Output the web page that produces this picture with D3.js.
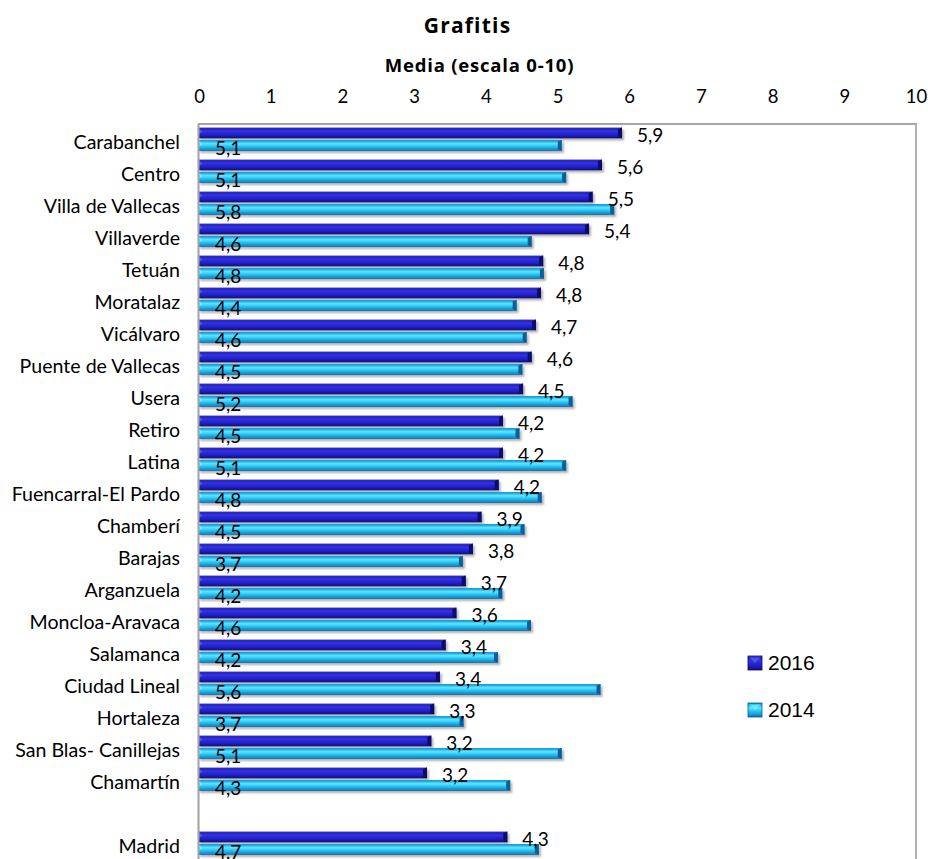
<!DOCTYPE html>
<html>
<head>
<meta charset="utf-8">
<script src="https://cdn.jsdelivr.net/npm/d3@7"></script>
<style>
  html, body { margin: 0; padding: 0; background: #fff; }
  svg { display: block; }
  text { font-family: Lato, "Open Sans", sans-serif; fill: #000; }
</style>
</head>
<body>
<svg id="chart" width="928" height="859"></svg>
<script>
const title = "Grafitis";
const axisTitle = "Media (escala 0-10)";
const categories = ["Carabanchel","Centro","Villa de Vallecas","Villaverde","Tetuán","Moratalaz","Vicálvaro","Puente de Vallecas","Usera","Retiro","Latina","Fuencarral-El Pardo","Chamberí","Barajas","Arganzuela","Moncloa-Aravaca","Salamanca","Ciudad Lineal","Hortaleza","San Blas- Canillejas","Chamartín","","Madrid"];
const series = ["2016", "2014"];
const values2016 = [5.90,5.62,5.49,5.44,4.80,4.77,4.70,4.64,4.52,4.24,4.24,4.18,3.94,3.82,3.72,3.59,3.44,3.36,3.28,3.24,3.18,null,4.30];
const values2014 = [5.06,5.12,5.79,4.64,4.81,4.43,4.57,4.51,5.21,4.47,5.12,4.78,4.54,3.68,4.23,4.63,4.17,5.60,3.69,5.06,4.34,null,4.74];
const xTicks = [0,1,2,3,4,5,6,7,8,9,10];

const svg = d3.select("#chart");
const defs = svg.append("defs");

const plot = {left: 199, right: 916, top: 124};
const rowH = 32;

const x = d3.scaleLinear().domain([0, 10]).range([plot.left, plot.right]);
const y = d3.scaleBand().domain(categories.map((c, i) => i)).range([plot.top, plot.top + rowH * categories.length]);
const ySub = d3.scaleBand().domain(series).range([3.5, 28.5]);

const locale = d3.formatLocale({decimal: ",", thousands: ".", grouping: [3], currency: ["", " €"]});
const fmt = locale.format(".1f");

// gradients
const gradStops = {
  "2016": [[0,"#4a4ae6"],[0.12,"#2020b0"],[0.32,"#3232e6"],[0.6,"#2424d0"],[0.85,"#1818a4"],[1,"#0c0c70"]],
  "2014": [[0,"#1a8ccc"],[0.14,"#26b0ea"],[0.34,"#5ae8ff"],[0.58,"#2cc4f2"],[0.85,"#1694d4"],[1,"#0a64a2"]]
};
const capColor = {"2016": "#0c0c6a", "2014": "#0a5f98"};
const tipColor = {"2016": "#5656ee", "2014": "#6aeeff"};
series.forEach(s => {
  const g = defs.append("linearGradient").attr("id", "g" + s).attr("x1", 0).attr("y1", 0).attr("x2", 0).attr("y2", 1);
  gradStops[s].forEach(([o, c]) => g.append("stop").attr("offset", o).attr("stop-color", c));
});
const f = defs.append("filter").attr("id", "shadow").attr("x", "-5%").attr("y", "-50%").attr("width", "110%").attr("height", "200%");
f.append("feGaussianBlur").attr("stdDeviation", 1.2);

// title texts
svg.append("text").attr("x", 467.5).attr("y", 33).attr("text-anchor", "middle")
  .style("font-family", "'Open Sans', Lato, sans-serif")
  .style("font-weight", "bold").style("font-size", "21px").style("letter-spacing", "1.2px").text(title);
svg.append("text").attr("x", 479.5).attr("y", 71.5).attr("text-anchor", "middle")
  .style("font-family", "'Open Sans', Lato, sans-serif")
  .style("font-weight", "bold").style("font-size", "18.5px").style("letter-spacing", "0.8px").text(axisTitle);

// top axis labels
const xAxis = d3.axisTop(x).tickValues(xTicks).tickSize(0).tickPadding(21).tickFormat(d => d);
const gx = svg.append("g").attr("transform", `translate(0,${plot.top})`).call(xAxis);
gx.select(".domain").remove();
gx.selectAll("text").style("font-family", "Lato, sans-serif").style("font-size", "18.5px").attr("fill", "#000");

// plot frame
const frame = svg.append("g");
frame.append("line").attr("x1", plot.left - 1).attr("x2", plot.right + 1).attr("y1", plot.top).attr("y2", plot.top)
  .attr("stroke", "#a6a6a6").attr("stroke-width", 2);
frame.append("line").attr("x1", plot.right).attr("x2", plot.right).attr("y1", plot.top).attr("y2", 859)
  .attr("stroke", "#b0b0b0").attr("stroke-width", 2);

// category labels
const yAxis = d3.axisLeft(y).tickSize(0).tickPadding(19).tickFormat(i => categories[i]);
const gy = svg.append("g").attr("transform", `translate(${plot.left},0)`).call(yAxis);
gy.select(".domain").remove();
gy.selectAll("text").attr("dy", "0.48em").style("font-family", "Lato, sans-serif").style("font-size", "19.6px").attr("fill", "#000");

// bars
const data = [];
categories.forEach((c, i) => {
  if (values2016[i] != null) data.push({i, s: "2016", v: values2016[i]});
  if (values2014[i] != null) data.push({i, s: "2014", v: values2014[i]});
});
const barH = 10.8;
const bars = svg.append("g");
const bg = bars.selectAll("g").data(data).join("g")
  .attr("transform", d => `translate(0,${y(d.i) + ySub(d.s)})`);
bg.append("rect").attr("x", x(0) + 1).attr("y", 2.2).attr("width", d => x(d.v) - x(0) + 1).attr("height", barH)
  .attr("fill", "#888").attr("opacity", 0.65).attr("filter", "url(#shadow)");
bg.append("rect").attr("x", x(0)).attr("y", 0).attr("width", d => x(d.v) - x(0)).attr("height", barH)
  .attr("fill", d => `url(#g${d.s})`);
bg.append("polygon").attr("points", d => {
  const xe = x(d.v);
  return [[xe - 4, 1.5], [xe, 0], [xe, barH], [xe - 4, barH - 1.5]].join(" ");
}).attr("fill", d => capColor[d.s]);
bg.append("polygon").attr("points", d => {
  const x0 = x(0);
  return [[x0, 0.5], [x0 + 4, barH / 2 - 1], [x0, barH / 2 + 1]].join(" ");
}).attr("fill", d => tipColor[d.s]).attr("opacity", 0.8);

// left axis line
svg.append("line").attr("x1", plot.left - 0.5).attr("x2", plot.left - 0.5).attr("y1", plot.top).attr("y2", 859)
  .attr("stroke", "#a0a0a0").attr("stroke-width", 2);

// value labels
const labels = svg.append("g").style("font-size", "19px");
labels.selectAll("text.l16").data(data.filter(d => d.s === "2016")).join("text")
  .attr("class", "l16")
  .attr("x", d => x(d.v) + 15)
  .attr("y", d => y(d.i) + 17.7)
  .text(d => fmt(d.v));
labels.selectAll("text.l14").data(data.filter(d => d.s === "2014")).join("text")
  .attr("class", "l14")
  .attr("x", x(0) + 16)
  .attr("y", d => y(d.i) + 31)
  .text(d => fmt(d.v));

// legend
const legend = svg.append("g").attr("transform", "translate(748,656)");
const li = legend.selectAll("g").data(series).join("g").attr("transform", (d, i) => `translate(0,${i * 47})`);
li.append("rect").attr("width", 14).attr("height", 14).attr("fill", d => `url(#g${d})`).attr("stroke", d => capColor[d]).attr("stroke-width", 0.8);
li.append("polygon").attr("points", "1.5,1.5 12.5,1.5 7,7").attr("fill", d => tipColor[d]).attr("opacity", 0.85);
li.append("text").attr("x", 20).attr("y", 14).style("font-family", "'Liberation Sans', Arial, sans-serif")
  .style("font-size", "21px").text(d => d);
</script>
</body>
</html>
